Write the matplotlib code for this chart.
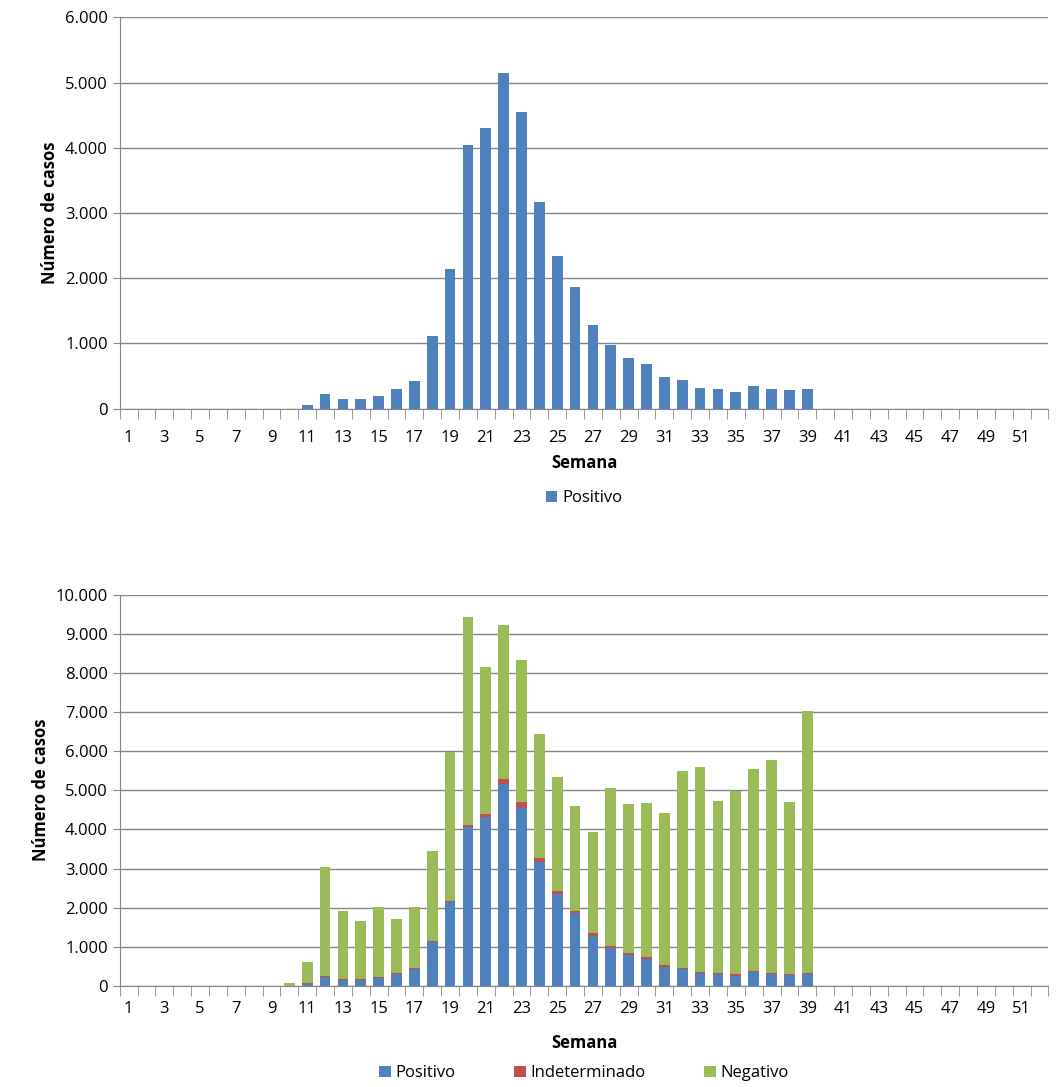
import numpy as np
import matplotlib.pyplot as plt
from matplotlib.ticker import FuncFormatter

plt.rcParams['font.family'] = ['Open Sans', 'DejaVu Sans']

weeks = np.arange(1, 53)
# values by week 10..39, zero elsewhere
pos_vals = [0, 60, 230, 150, 150, 200, 300, 430, 1110, 2140, 4050, 4310, 5150, 4550, 3170,
            2340, 1860, 1280, 970, 780, 690, 490, 440, 320, 300, 260, 350, 300, 280, 300]
ind_vals = [0, 10, 20, 20, 20, 20, 20, 20, 30, 40, 60, 80, 150, 150, 100,
            80, 60, 60, 50, 50, 40, 40, 30, 30, 30, 50, 30, 30, 30, 30]
tot_vals = [80, 610, 3030, 1910, 1660, 2010, 1710, 2010, 3440, 5990, 9440, 8140, 9230, 8320, 6450,
            5330, 4590, 3930, 5050, 4640, 4670, 4410, 5480, 5590, 4720, 4970, 5540, 5770, 4690, 7020]

pos = np.zeros(52); ind = np.zeros(52); tot = np.zeros(52)
pos[9:39] = pos_vals; ind[9:39] = ind_vals; tot[9:39] = tot_vals
neg = tot - pos - ind

blue, red, green = '#4F81BD', '#C0504D', '#9BBB59'
fmt = FuncFormatter(lambda v, p: f"{int(v):,}".replace(",", "."))

fig = plt.figure(figsize=(10.59, 10.87), dpi=100)
ax1 = fig.add_axes([0.113, 0.624, 0.877, 0.36])
ax2 = fig.add_axes([0.113, 0.093, 0.877, 0.36])

def style(ax, ymax, step, pad):
    ax.set_xlim(0.5, 52.5)
    ax.set_ylim(0, ymax)
    ax.set_yticks(np.arange(0, ymax + 1, step))
    ax.yaxis.set_major_formatter(fmt)
    ax.set_xticks(weeks[::2])
    ax.set_xticks(np.arange(0.5, 53, 1), minor=True)
    ax.tick_params(axis='x', which='major', length=0, labelsize=12, pad=pad)
    ax.tick_params(axis='x', which='minor', length=7, color='#868686')
    ax.tick_params(axis='y', length=5, labelsize=12, color='#868686')
    ax.grid(axis='y', color='#868686', linewidth=1)
    ax.set_axisbelow(True)
    for s in ['top', 'right']:
        ax.spines[s].set_visible(False)
    for s in ['left', 'bottom']:
        ax.spines[s].set_color('#868686')
    ax.set_xlabel('Semana', fontsize=12, fontweight='bold', labelpad=6)
    ax.set_ylabel('Número de casos', fontsize=12, fontweight='bold')

ax1.bar(weeks, pos, width=0.6, color=blue, label='Positivo')
style(ax1, 6000, 1000, 15)
ax1.legend(loc='upper center', bbox_to_anchor=(0.5, -0.17), frameon=False, fontsize=12,
           handlelength=0.7, handleheight=0.7, handletextpad=0.3)

ax2.bar(weeks, pos, width=0.6, color=blue, label='Positivo')
ax2.bar(weeks, ind, width=0.6, bottom=pos, color=red, label='Indeterminado')
ax2.bar(weeks, neg, width=0.6, bottom=pos + ind, color=green, label='Negativo')
style(ax2, 10000, 1000, 11)
ax2.xaxis.labelpad = 12
ax2.legend(loc='upper center', bbox_to_anchor=(0.5, -0.165), frameon=False, fontsize=12, ncol=3,
           handlelength=0.7, handleheight=0.7, handletextpad=0.3, columnspacing=3.5)

fig.savefig('out.png', dpi=100)
